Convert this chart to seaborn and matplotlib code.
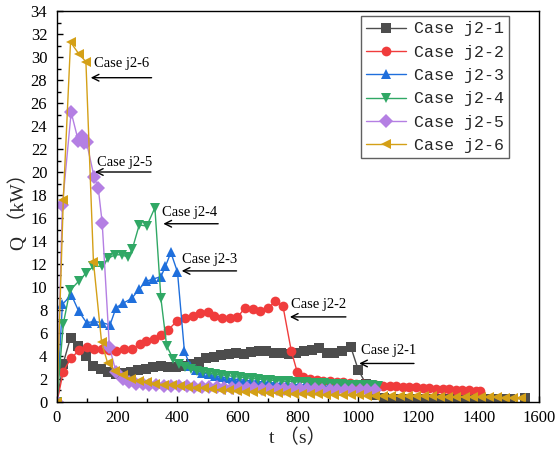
import pandas as pd
import matplotlib
matplotlib.use("Agg")
import matplotlib.pyplot as plt
import seaborn as sns

# --- data (t in s, Q in kW) ---
cases = ["Case j2-1", "Case j2-2", "Case j2-3", "Case j2-4", "Case j2-5", "Case j2-6"]

t1 = [0, 20, 45, 70, 95, 120, 145, 170, 195, 220, 245, 270, 295, 320, 345, 370, 395, 420, 445, 470,
      495, 520, 545, 570, 595, 620, 645, 670, 695, 720, 745, 770, 795, 820, 845, 870, 895, 920, 945, 975,
      1000, 1025, 1055, 1085, 1115, 1145, 1175, 1205, 1235, 1265, 1295, 1325, 1355, 1385, 1415, 1445,
      1475, 1505, 1553]
q1 = [0, 3.3, 5.6, 4.9, 4.0, 3.1, 2.85, 2.6, 2.45, 2.5, 2.6, 2.75, 2.85, 3.0, 3.1, 3.0, 3.0, 3.1, 3.3, 3.5,
      3.8, 3.95, 4.1, 4.2, 4.3, 4.2, 4.35, 4.45, 4.4, 4.3, 4.25, 4.2, 4.3, 4.4, 4.5, 4.7, 4.3, 4.3, 4.4, 4.8,
      2.8, 1.6, 0.6, 0.35, 0.3, 0.28, 0.27, 0.26, 0.25, 0.25, 0.24, 0.24, 0.23, 0.23, 0.22, 0.22,
      0.22, 0.22, 0.35]

t2 = [0, 21, 46, 74, 98, 123, 148, 172, 196, 221, 248, 276, 297, 321, 345, 370, 397, 425, 452, 475,
      500, 522, 548, 574, 599, 624, 650, 674, 700, 725, 750, 778, 797, 818, 840, 862, 884, 906, 928, 950,
      972, 994, 1016, 1038, 1060, 1082, 1104, 1126, 1148, 1170, 1192, 1214, 1236, 1258, 1280, 1302,
      1324, 1346, 1368, 1390, 1404]
q2 = [0, 2.65, 3.8, 4.5, 4.75, 4.6, 4.6, 4.5, 4.4, 4.6, 4.6, 5.0, 5.3, 5.5, 5.8, 6.3, 7.0, 7.3, 7.5, 7.7,
      7.8, 7.45, 7.3, 7.3, 7.35, 8.2, 8.1, 7.9, 8.15, 8.75, 8.35, 4.4, 2.65, 2.2, 2.0, 1.9, 1.85, 1.8, 1.75, 1.7,
      1.65, 1.6, 1.55, 1.5, 1.45, 1.42, 1.4, 1.37, 1.34, 1.3, 1.27, 1.24, 1.2, 1.17, 1.14, 1.1,
      1.07, 1.03, 1.0, 0.97, 0.95]

t3 = [0, 18, 48, 72, 98, 124, 150, 176, 196, 220, 248, 272, 296, 320, 345, 360, 378, 400, 423, 443,
      463, 483, 503, 523, 543, 563, 583, 603, 623, 643, 663, 683, 703, 723, 743, 763, 783, 803, 823, 843,
      863, 883, 903, 923, 943, 963, 983, 1003, 1023, 1043]
q3 = [0, 8.5, 9.3, 7.9, 6.9, 7.0, 6.9, 6.7, 8.2, 8.6, 9.0, 9.8, 10.5, 10.7, 10.9, 11.8, 13.0, 11.3, 4.4, 3.1,
      2.8, 2.55, 2.4, 2.3, 2.2, 2.1, 2.0, 1.95, 1.9, 1.85, 1.8, 1.75, 1.7, 1.65, 1.6, 1.57, 1.54, 1.5, 1.47, 1.44,
      1.41, 1.38, 1.35, 1.32, 1.3, 1.27, 1.25, 1.22, 1.2, 1.18]

t4 = [0, 21, 43, 72, 96, 121, 148, 170, 193, 215, 235, 250, 273, 298, 325, 345, 364, 386, 406, 426,
      446, 466, 486, 506, 526, 546, 566, 586, 606, 626, 646, 666, 686, 706, 726, 746, 766, 786, 806, 826,
      846, 866, 886, 906, 926, 946, 966, 986, 1006, 1026, 1046, 1066]
q4 = [0, 6.8, 9.7, 10.5, 11.2, 11.8, 11.8, 12.5, 12.8, 12.8, 12.6, 13.3, 15.4, 15.3, 16.9, 9.0, 4.9, 3.7, 3.3, 3.0,
      2.85, 2.7, 2.6, 2.5, 2.4, 2.35, 2.3, 2.22, 2.15, 2.1, 2.05, 2.0, 1.95, 1.9, 1.86, 1.82, 1.79, 1.76, 1.73, 1.7,
      1.67, 1.65, 1.62, 1.6, 1.57, 1.55, 1.52, 1.5, 1.48, 1.46, 1.44, 1.42]

t5 = [0, 18, 47, 71, 82, 90, 98, 123, 137, 150, 174, 196, 218, 240, 262, 284, 306, 330, 355, 380,
      405, 430, 455, 480, 505, 530, 555, 580, 605, 630, 655, 680, 705, 730, 755, 780, 805, 830, 855, 880,
      905, 930, 955, 980, 1005, 1030, 1055]
q5 = [0, 17.1, 25.2, 22.7, 23.1, 22.5, 22.6, 19.6, 18.6, 15.6, 4.8, 2.6, 2.0, 1.75, 1.6, 1.55, 1.5, 1.45, 1.42, 1.4,
      1.38, 1.36, 1.34, 1.32, 1.3, 1.28, 1.26, 1.24, 1.22, 1.2, 1.18, 1.16, 1.15, 1.14, 1.13, 1.12, 1.11, 1.1, 1.09, 1.08,
      1.07, 1.06, 1.05, 1.04, 1.03, 1.02, 1.0]

t6 = [0, 21, 45, 73, 96, 121, 148, 168, 192, 218, 245, 272, 300, 327, 354, 381, 408, 435, 462, 489,
      516, 543, 570, 597, 624, 651, 678, 705, 732, 759, 786, 813, 840, 867, 894, 921, 948, 975, 1002, 1029,
      1056, 1083, 1110, 1137, 1164, 1191, 1218, 1245, 1272, 1299, 1326, 1353, 1380, 1407, 1434, 1461,
      1488, 1515, 1540]
q6 = [0, 17.6, 31.3, 30.25, 29.6, 12.2, 5.2, 3.4, 2.7, 2.35, 2.0, 1.8, 1.7, 1.6, 1.5, 1.45, 1.35, 1.3, 1.25, 1.2,
      1.12, 1.05, 1.0, 0.95, 0.9, 0.87, 0.83, 0.8, 0.77, 0.75, 0.72, 0.7, 0.68, 0.66, 0.64, 0.62, 0.6, 0.58, 0.57, 0.56,
      0.55, 0.54, 0.53, 0.52, 0.51, 0.5, 0.49, 0.48, 0.47, 0.46, 0.45, 0.44, 0.43, 0.42, 0.41, 0.4,
      0.39, 0.38, 0.37]

x_ticks = [0, 200, 400, 600, 800, 1000, 1200, 1400, 1600]
y_ticks = list(range(0, 35, 2))

# annotation: label, text position, arrow tail, arrow head
notes = [
    ("Case j2-6", (122, 29.4), (314, 28.2), (112, 28.2)),
    ("Case j2-5", (133, 20.8), (312, 20.0), (126, 20.0)),
    ("Case j2-4", (349, 16.45), (535, 15.5), (353, 15.5)),
    ("Case j2-3", (414, 12.4), (596, 11.4), (414, 11.4)),
    ("Case j2-2", (777, 8.45), (959, 7.4), (773, 7.4)),
    ("Case j2-1", (1009, 4.45), (1185, 3.35), (1003, 3.35)),
]

frames = []
for name, t, q in zip(cases, [t1, t2, t3, t4, t5, t6], [q1, q2, q3, q4, q5, q6]):
    frames.append(pd.DataFrame({"t": t, "Q": q, "case": name}))
df = pd.concat(frames, ignore_index=True)

colors = ["#4d4d4d", "#f03c3c", "#1f6fdc", "#30a865", "#b47fe3", "#d4a017"]
marks = ["s", "o", "^", "v", "D", "<"]

sns.set_theme(style="white")
plt.rcParams["font.family"] = ["Liberation Serif", "Noto Sans CJK SC"]

fig = plt.figure(figsize=(5.57, 4.55), dpi=100)
ax = fig.add_axes([0.1023, 0.1165, 0.8654, 0.8593])

sns.lineplot(data=df, x="t", y="Q", hue="case", style="case",
             palette=dict(zip(cases, colors)), markers=dict(zip(cases, marks)),
             dashes=False, estimator=None, sort=False, ax=ax,
             linewidth=1.0, markersize=7, markeredgewidth=0)

ax.set_xlim(0, 1600)
ax.set_ylim(0, 34)
ax.set_xticks(x_ticks)
ax.set_yticks(y_ticks)
ax.set_xticks(range(100, 1600, 200), minor=True)
ax.set_yticks(range(1, 34, 2), minor=True)
ax.tick_params(which="both", direction="in", colors="black", labelsize=12,
               bottom=True, left=True, top=False, right=False)
ax.tick_params(which="major", length=4, width=1)
ax.tick_params(which="minor", length=3, width=1)
ax.tick_params(axis="x", which="major", pad=6)
ax.tick_params(axis="y", which="major", pad=7)
for s in ax.spines.values():
    s.set_color("black")
    s.set_linewidth(1.0)

ax.set_xlabel("t （s）", fontsize=14, labelpad=2)
ax.set_ylabel("Q （kW）", fontsize=14, labelpad=2)

for label, txt, tail, head in notes:
    ax.text(txt[0], txt[1], label, fontsize=10.5, va="center", ha="left", color="black",
            family="Liberation Serif")
    ax.annotate("", xy=head, xytext=tail,
                arrowprops=dict(arrowstyle="->,head_length=0.4,head_width=0.2",
                                color="black", lw=1.0, shrinkA=0, shrinkB=0))

handles, labels = ax.get_legend_handles_labels()
leg = ax.legend(handles, labels, loc="upper left", bbox_to_anchor=(0.631, 0.986),
                prop={"family": "Liberation Mono", "size": 12}, frameon=True, fancybox=False,
                edgecolor="#606060", framealpha=1, borderpad=0.3, labelspacing=0.5,
                handlelength=2.4, handletextpad=0.45, borderaxespad=0)
leg.get_frame().set_linewidth(1.0)

fig.savefig("out.png", dpi=100)
